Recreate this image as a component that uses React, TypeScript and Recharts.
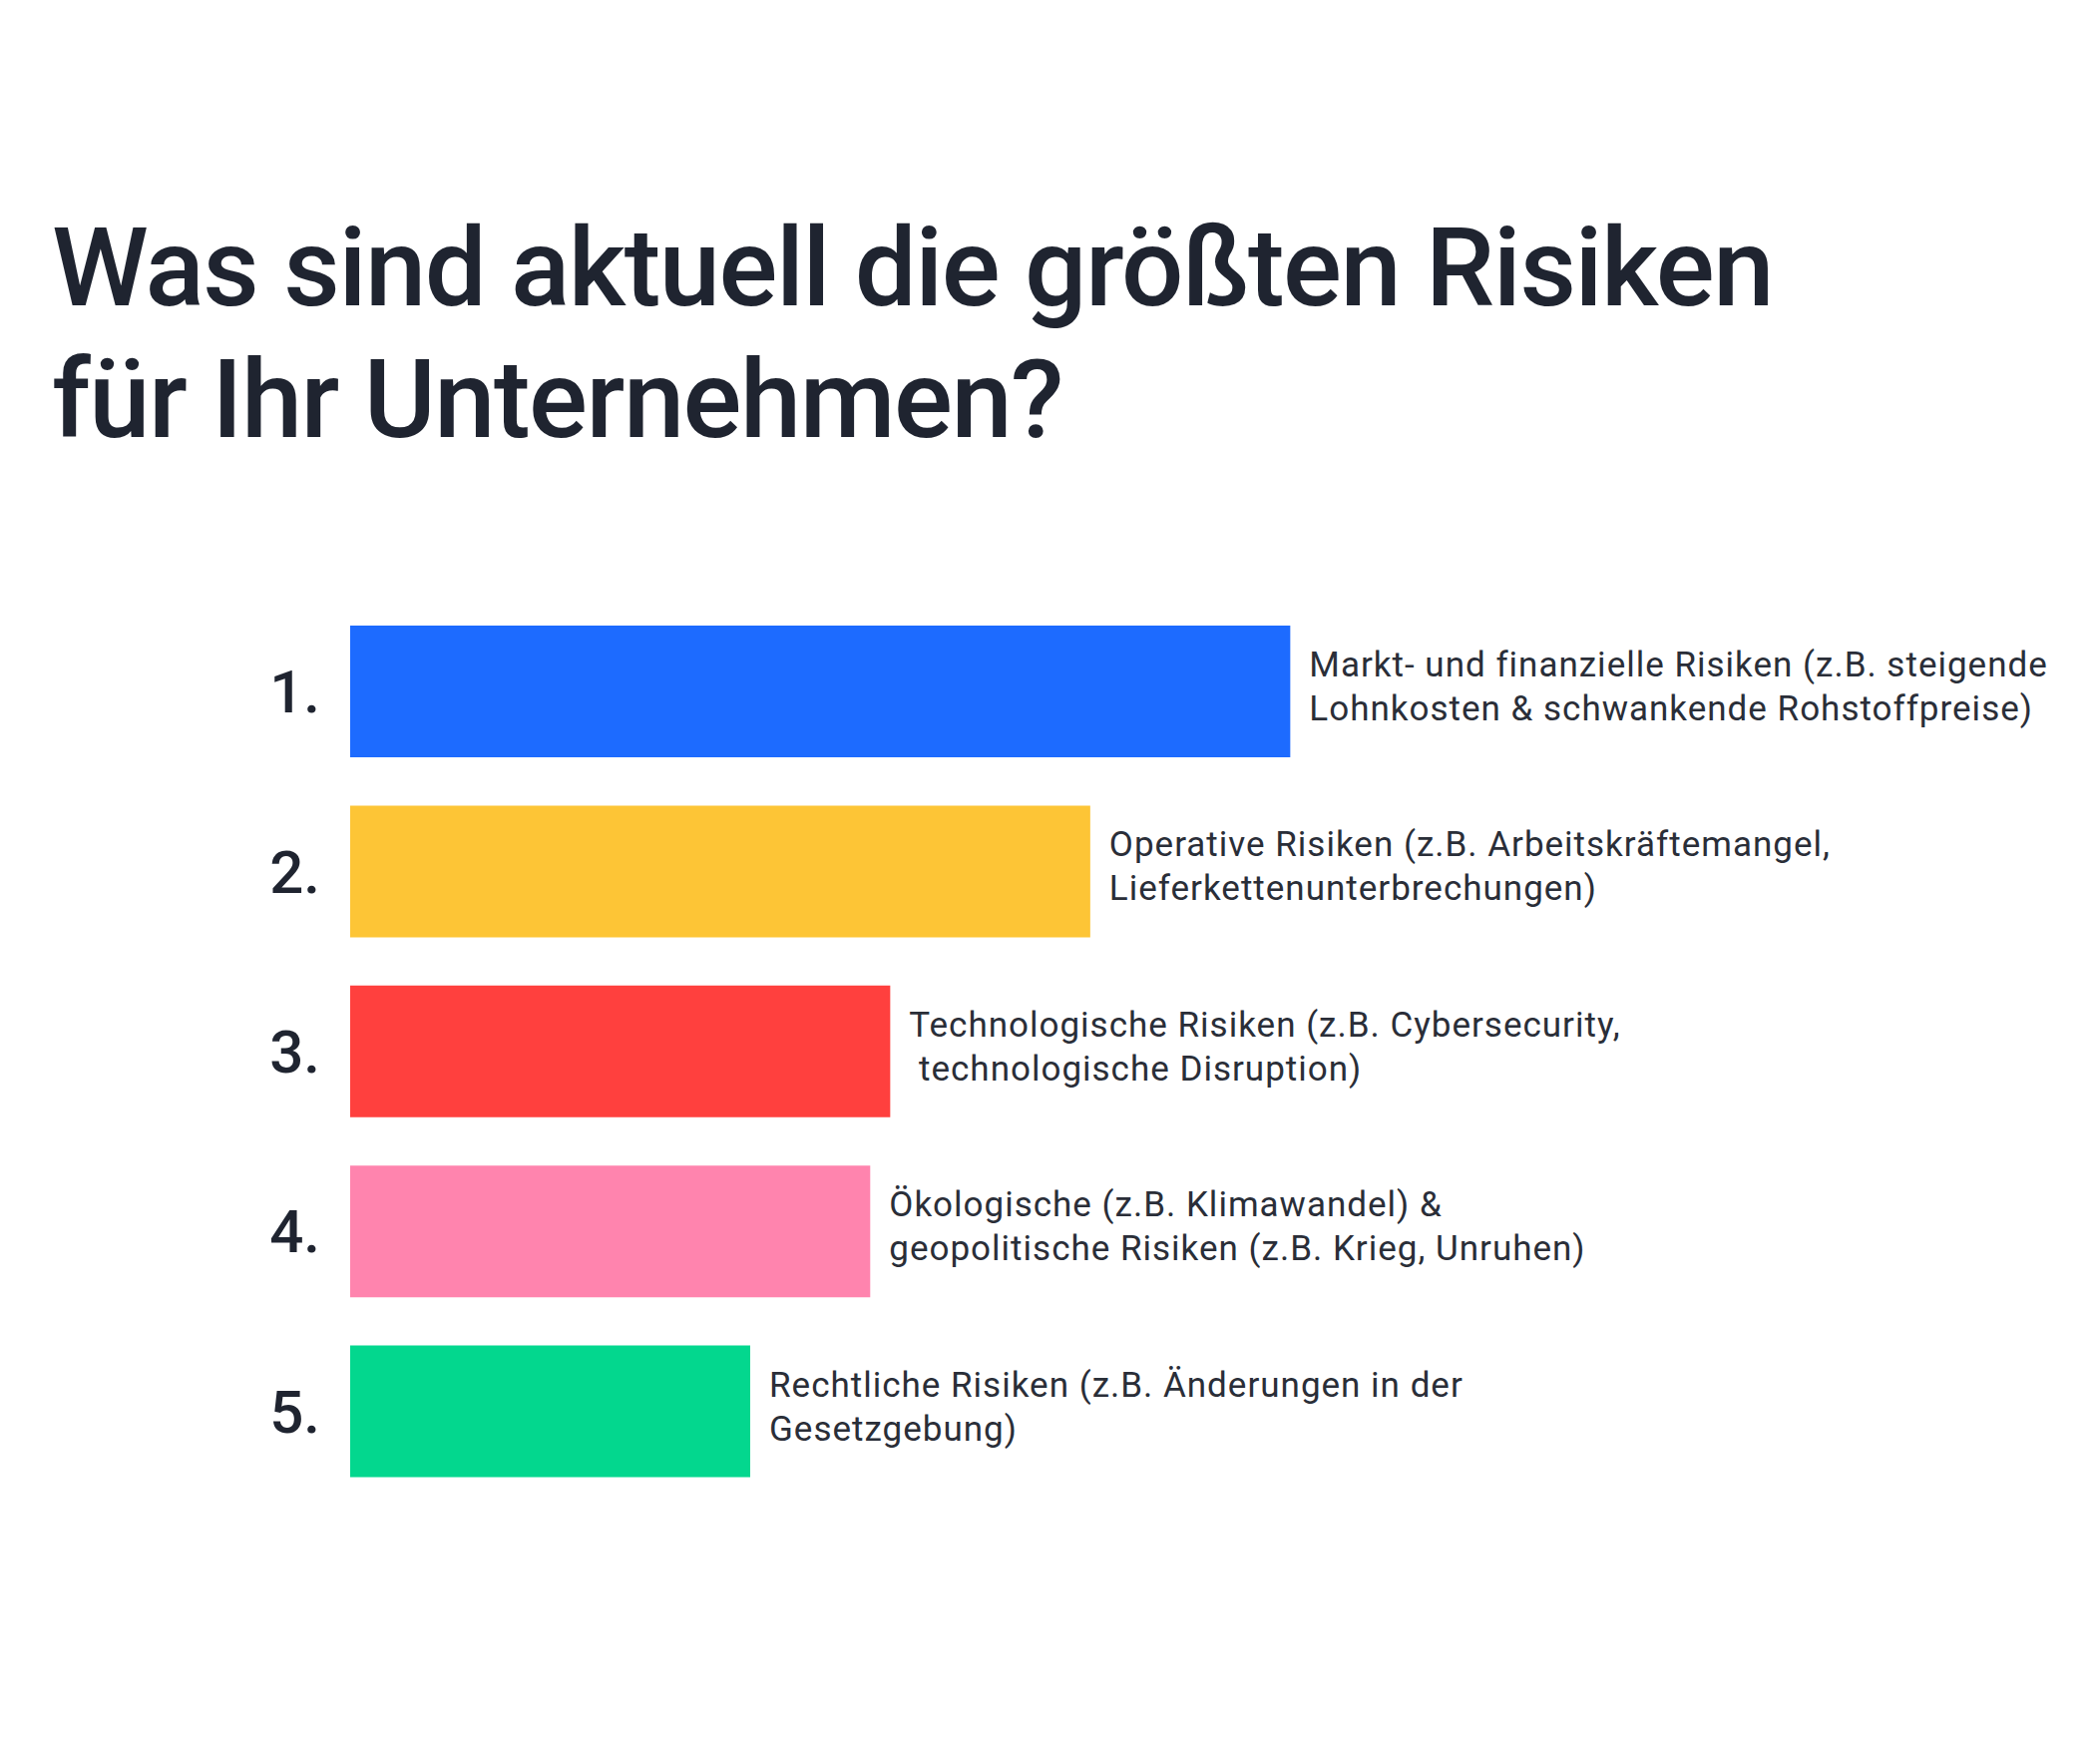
import { BarChart, Bar, XAxis, YAxis, Cell } from "recharts";

const ranks = ["1.", "2.", "3.", "4.", "5."];
const shares = [47, 37, 27, 26, 20];
const labelFirst = [
  "Markt- und finanzielle Risiken (z.B. steigende",
  "Operative Risiken (z.B. Arbeitskräftemangel,",
  "Technologische Risiken (z.B. Cybersecurity,",
  "Ökologische (z.B. Klimawandel) &",
  "Rechtliche Risiken (z.B. Änderungen in der",
];
const labelSecond = [
  "Lohnkosten & schwankende Rohstoffpreise)",
  "Lieferkettenunterbrechungen)",
  " technologische Disruption)",
  "geopolitische Risiken (z.B. Krieg, Unruhen)",
  "Gesetzgebung)",
];
const barColors = ["#1d6bff", "#fdc536", "#ff403e", "#ff84ae", "#03d78e"];
const titleLines = ["Was sind aktuell die größten Risiken", "für Ihr Unternehmen?"];

const data = ranks.map((rank, i) => ({ rank, share: shares[i] }));

const INK = "#1f2430";
const FONT = "Roboto, 'Noto Sans', sans-serif";

const RankTick = ({ x, y, payload }: any) => (
  <text x={x} y={y} dy={21} textAnchor="end" fontSize={60} fontWeight={500} fill={INK} fontFamily={FONT}>
    {payload.value}
  </text>
);

const renderLabel = (props: any) => {
  const { x, y, width, height, index } = props;
  const tx = x + width + 19;
  const cy = y + height / 2;
  return (
    <text fill="#2a2e38" fontSize={35} fontFamily={FONT} letterSpacing={1} style={{ whiteSpace: "pre" }}>
      <tspan x={tx} y={cy - 15}>{labelFirst[index]}</tspan>
      <tspan x={tx} y={cy + 29}>{labelSecond[index]}</tspan>
    </text>
  );
};

export default function App() {
  return (
    <div style={{ position: "absolute", left: 0, top: 0, width: 2099, height: 1768, background: "#fff" }}>
      <svg width={2099} height={500} style={{ position: "absolute", left: 0, top: 0 }}>
        <text x={52} y={306} fontSize={110} fontWeight={500} fill={INK} fontFamily={FONT} letterSpacing={-1.5}>
          {titleLines[0]}
        </text>
        <text x={52} y={438} fontSize={110} fontWeight={500} fill={INK} fontFamily={FONT} letterSpacing={-1.5}>
          {titleLines[1]}
        </text>
      </svg>
      <div style={{ position: "absolute", left: 0, top: 0 }}>
        <BarChart
          width={2099}
          height={1768}
          data={data}
          layout="vertical"
          margin={{ top: 603, right: 144, bottom: 263, left: 0 }}
        >
          <XAxis type="number" domain={[0, 80]} hide />
          <YAxis
            type="category"
            dataKey="rank"
            width={351}
            axisLine={false}
            tickLine={false}
            tickSize={0}
            tickMargin={30}
            tick={<RankTick />}
          />
          <Bar dataKey="share" barSize={132} isAnimationActive={false} label={renderLabel}>
            {data.map((d, i) => (
              <Cell key={d.rank} fill={barColors[i]} />
            ))}
          </Bar>
        </BarChart>
      </div>
    </div>
  );
}
